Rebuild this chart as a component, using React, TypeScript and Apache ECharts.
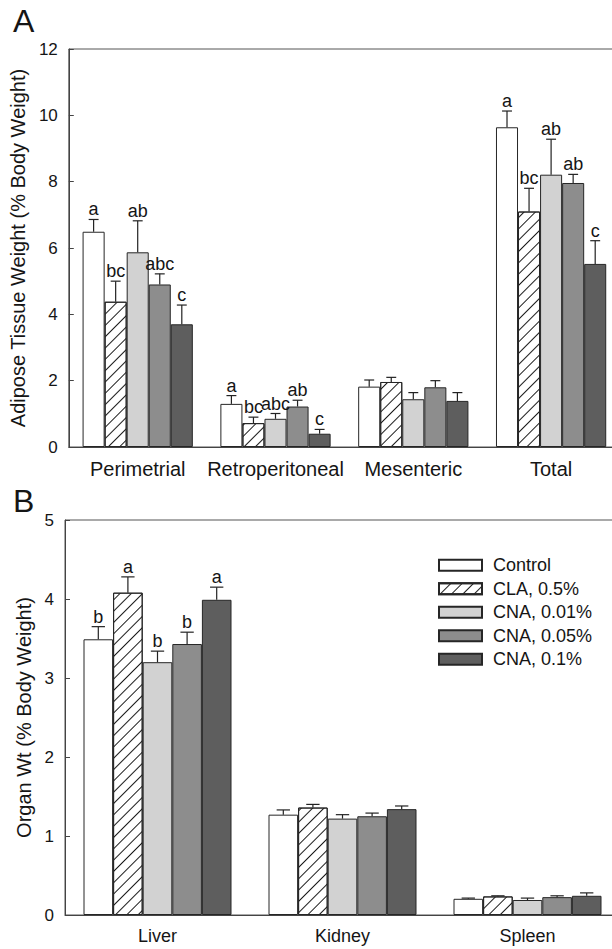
import React, { useEffect, useRef } from 'react';
import * as echarts from 'echarts';

const groupNames = ['Control', 'CLA, 0.5%', 'CNA, 0.01%', 'CNA, 0.05%', 'CNA, 0.1%'];

// Panel A: adipose tissue weight (% body weight)
const adiposeCategories = ['Perimetrial', 'Retroperitoneal', 'Mesenteric', 'Total'];
const adiposeControl = [6.49, 1.3, 1.82, 9.64];
const adiposeCLA = [4.38, 0.72, 1.96, 7.1];
const adiposeCNA001 = [5.87, 0.85, 1.44, 8.21];
const adiposeCNA005 = [4.9, 1.22, 1.8, 7.96];
const adiposeCNA01 = [3.7, 0.4, 1.39, 5.52];
// upper ends of error bars (mean + SE)
const adiposeControlErr = [6.86, 1.55, 2.02, 10.13];
const adiposeCLAErr = [5.0, 0.9, 2.1, 7.8];
const adiposeCNA001Err = [6.82, 1.01, 1.64, 9.28];
const adiposeCNA005Err = [5.22, 1.41, 2.0, 8.22];
const adiposeCNA01Err = [4.28, 0.53, 1.64, 6.22];
const adiposeLetters = [
  ['a', 'a', '', 'a'],
  ['bc', 'bc', '', 'bc'],
  ['ab', 'abc', '', 'ab'],
  ['abc', 'ab', '', 'ab'],
  ['c', 'c', '', 'c'],
];
const adiposeTicks = { min: 0, max: 12, interval: 2 };

// Panel B: organ weight (% body weight)
const organCategories = ['Liver', 'Kidney', 'Spleen'];
const organControl = [3.49, 1.27, 0.205];
const organCLA = [4.08, 1.36, 0.235];
const organCNA001 = [3.2, 1.22, 0.19];
const organCNA005 = [3.43, 1.25, 0.226];
const organCNA01 = [3.99, 1.34, 0.243];
const organControlErr = [3.65, 1.33, 0.214];
const organCLAErr = [4.28, 1.4, 0.243];
const organCNA001Err = [3.34, 1.27, 0.214];
const organCNA005Err = [3.58, 1.29, 0.243];
const organCNA01Err = [4.15, 1.38, 0.28];
const organLetters = [
  ['b', '', ''],
  ['a', '', ''],
  ['b', '', ''],
  ['b', '', ''],
  ['a', '', ''],
];
const organTicks = { min: 0, max: 5, interval: 1 };

const FONT = '"Liberation Sans", Arial, Helvetica, sans-serif';
const INK = '#151515';
const fills = ['#ffffff', '#ffffff', '#d2d2d2', '#8d8d8d', '#5e5e5e'];
const hatch = {
  symbol: 'rect',
  symbolSize: 1,
  dashArrayX: [1, 0],
  dashArrayY: [0.8, 6.2],
  rotation: -Math.PI / 4,
  color: '#1a1a1a',
};

const BAR_FRAC = 0.16;

export default function App() {
  const ref = useRef<HTMLDivElement>(null);

  useEffect(() => {
    if (!ref.current) return;
    const chart = echarts.init(ref.current, undefined, { renderer: 'svg' });

    const panels = [
      {
        cats: adiposeCategories,
        means: [adiposeControl, adiposeCLA, adiposeCNA001, adiposeCNA005, adiposeCNA01],
        errs: [adiposeControlErr, adiposeCLAErr, adiposeCNA001Err, adiposeCNA005Err, adiposeCNA01Err],
        letters: adiposeLetters,
      },
      {
        cats: organCategories,
        means: [organControl, organCLA, organCNA001, organCNA005, organCNA01],
        errs: [organControlErr, organCLAErr, organCNA001Err, organCNA005Err, organCNA01Err],
        letters: organLetters,
      },
    ];

    const series: any[] = [];
    panels.forEach((panel, p) => {
      panel.means.forEach((vals, g) => {
        series.push({
          type: 'bar',
          name: groupNames[g],
          xAxisIndex: p,
          yAxisIndex: p,
          data: vals,
          barWidth: BAR_FRAC * 100 + '%',
          barGap: '0%',
          itemStyle: {
            color: fills[g],
            borderColor: '#262626',
            borderWidth: 1,
            decal: g === 1 ? hatch : undefined,
          },
        });
      });
      const items: number[][] = [];
      panel.means.forEach((vals, g) => {
        vals.forEach((v, c) => {
          items.push([c, v, panel.errs[g][c], g]);
        });
      });
      series.push({
        type: 'custom',
        xAxisIndex: p,
        yAxisIndex: p,
        z: 10,
        data: items,
        renderItem: (params: any, api: any) => {
          const c = api.value(0);
          const m = api.value(1);
          const e = api.value(2);
          const g = api.value(3);
          const band = api.size([1, 0])[0];
          const bw = band * BAR_FRAC;
          const base = api.coord([c, m]);
          const top = api.coord([c, e]);
          const x = base[0] + (g - 2) * bw;
          const cap = bw * 0.45;
          const letter = panel.letters[g][c];
          const children: any[] = [
            {
              type: 'line',
              shape: { x1: x, y1: base[1], x2: x, y2: top[1] },
              style: { stroke: '#222', lineWidth: 1.2 },
            },
            {
              type: 'line',
              shape: { x1: x - cap / 2, y1: top[1], x2: x + cap / 2, y2: top[1] },
              style: { stroke: '#222', lineWidth: 1.2 },
            },
          ];
          if (letter) {
            children.push({
              type: 'text',
              x: x,
              y: top[1] - 1,
              style: {
                text: letter,
                fontSize: 18,
                fontFamily: FONT,
                fill: INK,
                align: 'center',
                verticalAlign: 'bottom',
              },
            });
          }
          return { type: 'group', children };
        },
      });
    });

    const yAxisCommon = (name: string, ticks: any, gridIndex: number) => ({
      type: 'value',
      gridIndex,
      min: ticks.min,
      max: ticks.max,
      interval: ticks.interval,
      name,
      nameLocation: 'middle',
      nameGap: 30,
      nameTextStyle: { fontSize: 20, fontFamily: FONT, color: INK },
      axisLine: { show: true, lineStyle: { color: '#444', width: 1 } },
      axisTick: { show: true, inside: true, length: 5, lineStyle: { color: '#444' } },
      splitLine: { show: false },
      axisLabel: { fontSize: 17, fontFamily: FONT, color: INK, margin: 11 },
    });

    const xAxisCommon = (data: string[], gridIndex: number, fontSize: number) => ({
      type: 'category',
      gridIndex,
      data,
      axisLine: { show: true, lineStyle: { color: '#444', width: 1 } },
      axisTick: { show: false },
      axisLabel: { fontSize, fontFamily: FONT, color: INK, margin: 12, interval: 0 },
    });

    chart.setOption({
      animation: false,
      backgroundColor: '#ffffff',
      grid: [
        { left: 65, top: 49, width: 555, height: 398, show: true, borderColor: '#555', borderWidth: 1, backgroundColor: 'transparent' },
        { left: 65, top: 520, width: 555, height: 395, show: true, borderColor: '#555', borderWidth: 1, backgroundColor: 'transparent' },
      ],
      xAxis: [xAxisCommon(adiposeCategories, 0, 20), xAxisCommon(organCategories, 1, 18)],
      yAxis: [
        yAxisCommon('Adipose Tissue Weight (% Body Weight)', adiposeTicks, 0),
        yAxisCommon('Organ Wt (% Body Weight)', organTicks, 1),
      ],
      legend: {
        data: groupNames,
        orient: 'vertical',
        left: 433,
        top: 551,
        itemWidth: 43,
        itemHeight: 11,
        itemGap: 5,
        icon: 'rect',
        selectedMode: false,
        textStyle: { fontSize: 18, fontFamily: FONT, color: INK, lineHeight: 18.5, padding: [0, 0, 0, 6] },
      },
      graphic: [
        { type: 'text', left: 13, top: 5, style: { text: 'A', fontSize: 32, fontFamily: FONT, fill: INK } },
        { type: 'text', left: 13, top: 485, style: { text: 'B', fontSize: 32, fontFamily: FONT, fill: INK } },
      ],
      series,
    });

    return () => chart.dispose();
  }, []);

  return (
    <div style={{ position: 'absolute', left: 0, top: 0, width: 612, height: 949, overflow: 'hidden' }}>
      <div ref={ref} style={{ position: 'absolute', left: 0, top: 0, width: 640, height: 949 }} />
    </div>
  );
}
